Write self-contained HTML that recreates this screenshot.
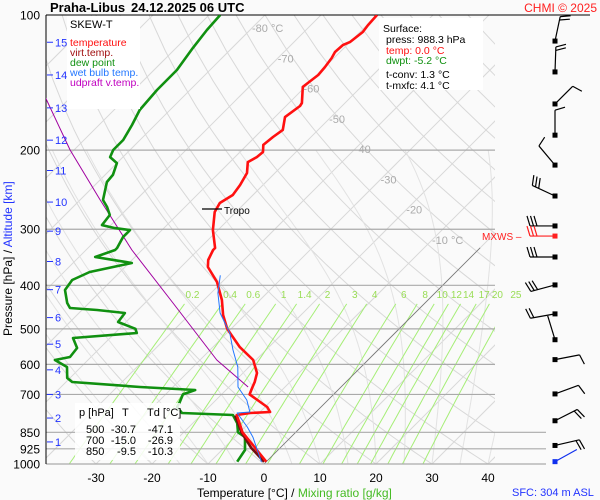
<!DOCTYPE html>
<html><head><meta charset="utf-8">
<style>
html,body{margin:0;padding:0;background:#fafafa;width:600px;height:500px;overflow:hidden;position:relative;}
svg{display:block;font-family:"Liberation Sans",sans-serif;}
</style></head>
<body>
<svg id="chart" width="600" height="500" viewBox="0 0 600 500" xmlns="http://www.w3.org/2000/svg">
<rect x="0" y="0" width="600" height="500" fill="#fafafa"/>
<defs><clipPath id="pc"><rect x="46" y="15" width="449" height="449"/></clipPath></defs>
<g id="grid" clip-path="url(#pc)"></g>
<g id="plines"></g>
<g id="series" clip-path="url(#pc)"></g>
<g id="winds"></g>
<g id="labels"></g>
</svg>
<script>
// ---- data ----
const pressureTicks=[100,200,300,400,500,600,700,850,925,1000];
const tempTicks=[-30,-20,-10,0,10,20,30,40];
const isoLabelT=[-80,-70,-60,-50,-40,-30,-20,-10];
const mixRatios=[0.2,0.4,0.6,1,1.4,2,3,4,6,8,10,12,14,17,20,25];
const altKm=[1,2,3,4,5,6,7,8,9,10,11,12,13,14,15];
const altP=[893,790,700,617,541,472,409,354,303,261,222,190,161,136,115];
const tP=[100,105.3,109.1,114.9,116.6,120.9,124.7,130.6,136,144.6,157,159.5,168.8,180.3,186.9,194.7,201.9,207.2,212.6,224.9,239.1,251.7,262.3,274.6,301.3,330.3,333.7,351.3,364.1,393.2,431.2,465.8,500,549,586.7,627,656.7,677.1,700,746.5,766,770,778,850,988.3];
const tT=[-60,-59.8,-59.5,-60,-60.7,-60.9,-60.4,-60,-59.8,-60.4,-57.7,-57.5,-58.2,-56.3,-56.8,-57.1,-55.9,-56.1,-56.8,-55,-54.1,-53.6,-54.5,-53.8,-50.9,-47.3,-47.3,-46.4,-45.2,-40.9,-36.8,-33.9,-30.7,-25.2,-20.5,-17.5,-16.3,-15.7,-15,-9.6,-8.2,-11.6,-13.6,-9.5,0.0];
const dP=[100,108,118.4,132.6,146.9,162.8,175.8,189.8,199.8,207.2,213.7,227.1,235.5,258.2,267.7,278.9,293.7,298.2,301.3,312.3,330.3,333.7,346,356.8,373.6,389.3,409.8,437.9,449.3,454,461,482.8,500,510.8,524.1,551.6,577.7,586.7,608.2,643.5,656.7,673.7,684.2,700,727.7,746.5,770,778,810.6,850,871,930.7,988.3];
const dT=[-88,-87.7,-87,-85.9,-85.9,-85.4,-84.1,-83,-83,-82.3,-80,-78.6,-78.4,-75.9,-73.9,-72,-71.6,-68.75,-65.7,-65.7,-64.8,-64.8,-67.1,-59.5,-65.4,-67.1,-66.6,-63.9,-62.5,-57.3,-51.8,-51.4,-47.1,-46.1,-56.6,-54.1,-53.75,-55.9,-52.5,-50.5,-48.9,-35.9,-25.5,-26.9,-26.1,-25.7,-23.75,-14.3,-12.1,-10.3,-8.2,-5.9,-5.2];
const wP=[380,416.2,461,510.8,557.2,608.2,673.7,720.2,766,770,827,871,990];
const wT=[-41.5,-38.75,-34.8,-29.5,-25.9,-22,-18.4,-14.5,-11.8,-13.9,-9.6,-6.8,-0.8];
const vP=[780,850,920,988.3];
const vT=[-13.8,-9.7,-5.2,-0.4];
const uP=[152.3,199.8,258.2,333.7,437.9,586.7,673.7];
const uT=[-104.6,-90.7,-76.4,-61.8,-45,-27,-16.6];
const windP=[114.3,133.9,157.8,185.2,215.9,253,295,345.9,399.2,463.1,528.7,585.5,698.1,801.1,909.3,988];
const windDir=[12,2,45,0,320,295,270,270,255,260,343,79,70,63,77,61];
const windSpd=[20,20,10,10,10,30,30,30,30,20,3,10,10,20,20,3];
const mxwsP=310.7, mxwsDir=270, mxwsSpd=30;

// ---- axes ----
const X0=264, PX=5.6, YT=15, YB=464;
function yP(p){return YT+(YB-YT)*Math.log10(p/100);}
function pY(y){return 100*Math.pow(10,(y-YT)/(YB-YT));}
function xT(t,p){return X0+PX*t+(YB-yP(p));}
const NS='http://www.w3.org/2000/svg';
function mk(tag,attrs,parent){const e=document.createElementNS(NS,tag);for(const k in attrs)e.setAttribute(k,attrs[k]);parent.appendChild(e);return e;}
function pathFrom(ps,ts){return ps.map((p,i)=>(i?'L':'M')+xT(ts[i],p).toFixed(1)+','+yP(p).toFixed(1)).join('');}
const grid=document.getElementById('grid'),series=document.getElementById('series'),labels=document.getElementById('labels'),plines=document.getElementById('plines'),winds=document.getElementById('winds');

for(let t=-130;t<=50;t+=10){
  const e=mk('line',{x1:xT(t,1000),y1:yP(1000),x2:xT(t,100),y2:yP(100),stroke:'#d8d8d8','stroke-width':1},grid);
  
  
}
const pl=[];for(let p=1000;p>=100;p-=20)pl.push(p);
for(let th=-30;th<=220;th+=10){
  const ts=pl.map(p=>(th+273.15)*Math.pow(p/1000,0.286)-273.15);
  const e=mk('path',{d:pathFrom(pl,ts),fill:'none',stroke:'#d8d8d8','stroke-width':1},grid);
  
  
}
function es(t){return 6.112*Math.exp(17.67*t/(t+243.5));}
for(let t0=-20;t0<=40;t0+=5){
  let T=t0+273.15;const ps=[],ts=[];
  for(let p=1000;p>=200;p-=5){
    ps.push(p);ts.push(T-273.15);
    const e=es(T-273.15),rs=0.622*e/(p-e);
    const dTdp=(287*T+2.5e6*rs)/(p*(1005+2.5e6*2.5e6*rs*0.622/(287*T*T)));
    T-=dTdp*5;
  }
  const e=mk('path',{d:pathFrom(ps,ts),fill:'none',stroke:'#e2e2e2','stroke-width':1},grid);
  
  
}
function tdFromW(w,p){const e=w*p/(622+w);const l=Math.log(e/6.112);return 243.5*l/(17.67-l);}
const mp=[];for(let p=1000;p>=440;p-=20)mp.push(p);mp.push(440);
mixRatios.forEach(w=>{
  const e=mk('path',{d:pathFrom(mp,mp.map(p=>tdFromW(w,p))),fill:'none',stroke:'#a6ee77','stroke-width':1},grid);
  
  
  const t=mk('text',{x:xT(tdFromW(w,440),440)+8,y:298,'font-size':10,fill:'#99dd55','text-anchor':'middle'},labels);
  t.textContent=String(w);
  
  
});
{const e=mk('line',{x1:xT(0,1000),y1:yP(1000),x2:xT(0,330),y2:yP(330),stroke:'#777','stroke-width':0.8},grid);
}

pressureTicks.forEach(p=>{
  const y=yP(p);
  if(p>100){const e=mk('line',{x1:46,y1:y,x2:p>=850?546:495,y2:y,stroke:'#aaa','stroke-width':1.2},plines);
  }
  const t=mk('text',{x:40,y:y+4.5,'font-size':12,'text-anchor':'end',fill:'#000'},labels);
  t.textContent=String(p);
  
  
});
mk('line',{x1:46,y1:15,x2:590,y2:15,stroke:'#000','stroke-width':1},plines);
mk('line',{x1:46,y1:15,x2:46,y2:464,stroke:'#000','stroke-width':1},plines);
tempTicks.forEach(t=>{
  const e=mk('text',{x:xT(t,1000),y:482,'font-size':12,'text-anchor':'middle'},labels);
  e.textContent=String(t);
  
  
});
altKm.forEach((k,i)=>{
  const y=yP(altP[i]);
  mk('line',{x1:47,y1:y,x2:53,y2:y,stroke:'#2233ff','stroke-width':1},labels);
  const e=mk('text',{x:55,y:y+4,'font-size':11,fill:'#2233ff'},labels);
  e.textContent=String(k);
  
  
});
isoLabelT.forEach(t=>{
  const y=28+(t+80)/70*212;
  const x=xT(t,pY(y));
  const e=mk('text',{x:x,y:y+4,'font-size':11,fill:'#aaa'},labels);
  e.textContent=(t===-80||t===-10)?t+' °C':String(t);
  
  
});

function line(ps,ts,col,w,name){const e=mk('path',{d:pathFrom(ps,ts),fill:'none',stroke:col,'stroke-width':w,'stroke-linejoin':'round'},series);}
line(uP,uT,'#a000a0',1,'updraft-line');
line(dP,dT,'#109010',2.6,'dewpoint-line');
line(vP,vT,'#701010',2.6,'virtual-temperature-line');
line(tP,tT,'#ff1010',2.6,'temperature-line');
line(wP,wT,'#2277ff',1,'wet-bulb-line');

function barb(p,dir,spd,col,name){
  const y=yP(p),x=555,L=25,r=dir*Math.PI/180;
  const sx=Math.sin(r),sy=-Math.cos(r),bx=-sy,by=sx;
  const ex=x+sx*L,ey=y+sy*L;
  const g=mk('g',{},winds);
  
  
  mk('line',{x1:x,y1:y,x2:ex,y2:ey,stroke:col,'stroke-width':1.2},g);
  mk('rect',{x:x-2.5,y:y-2.5,width:5,height:5,fill:col},g);
  let n=Math.floor(spd/10),half=(spd%10)>=5;
  for(let i=0;i<n;i++){const ox=ex-sx*i*3.5,oy=ey-sy*i*3.5;mk('line',{x1:ox,y1:oy,x2:ox+bx*10+sx*3,y2:oy+by*10+sy*3,stroke:col,'stroke-width':1.2},g);}
  if(half){const ox=ex-sx*n*3.5,oy=ey-sy*n*3.5;mk('line',{x1:ox,y1:oy,x2:ox+bx*5+sx*1.5,y2:oy+by*5+sy*1.5,stroke:col,'stroke-width':1.2},g);}
}
windP.forEach((p,i)=>barb(p,windDir[i],windSpd[i],i===windP.length-1?'#1030ee':'#000','wind-barb'));
barb(mxwsP,mxwsDir,mxwsSpd,'#ff2020','max-wind-barb');
</script>
<svg style="position:absolute;left:0;top:0" width="600" height="500">
<g font-family="Liberation Sans, sans-serif">
<text x="50" y="12" font-size="13" font-weight="bold">Praha-Libus</text>
<text x="131" y="12" font-size="13" font-weight="bold">24.12.2025 06 UTC</text>
<text x="597" y="12" font-size="12" fill="#ff2020" text-anchor="end">CHMI © 2025</text>
<rect x="67" y="16" width="73" height="93" fill="#fff"/>
<text x="70" y="28" font-size="11">SKEW-T</text>
<text x="70" y="46" font-size="10.5" fill="#ff1010">temperature</text>
<text x="70" y="56" font-size="10.5" fill="#a01010">virt.temp.</text>
<text x="70" y="66" font-size="10.5" fill="#109010">dew point</text>
<text x="70" y="76" font-size="10.5" fill="#2277ff">wet bulb temp.</text>
<text x="70" y="86" font-size="10.5" fill="#c000c0">udpraft v.temp.</text>
<rect x="379" y="18" width="104" height="72" fill="#fff"/>
<g font-size="10.5">
<text x="383" y="32">Surface:</text>
<text x="386" y="43">press: 988.3 hPa</text>
<text x="386" y="54" fill="#ff1010">temp: 0.0 °C</text>
<text x="386" y="64" fill="#109010">dwpt: -5.2 °C</text>
<text x="386" y="78">t-conv: 1.3 °C</text>
<text x="386" y="89">t-mxfc: 4.1 °C</text>
</g>
<rect x="75" y="403" width="105" height="57" fill="#fff" fill-opacity="0.85"/>
<g font-size="11">
<text x="79" y="416">p [hPa]</text><text x="122" y="416">T</text><text x="147" y="416">Td [°C]</text>
<text x="86" y="433">500</text><text x="136" y="433" text-anchor="end">-30.7</text><text x="173" y="433" text-anchor="end">-47.1</text>
<text x="86" y="444">700</text><text x="136" y="444" text-anchor="end">-15.0</text><text x="173" y="444" text-anchor="end">-26.9</text>
<text x="86" y="455">850</text><text x="136" y="455" text-anchor="end">-9.5</text><text x="173" y="455" text-anchor="end">-10.3</text>
</g>
<line x1="202" y1="209" x2="222" y2="209" stroke="#000" stroke-width="1.2"/>
<text x="224" y="214" font-size="10">Tropo</text>
<text x="482" y="240" font-size="10" fill="#ff2020">MXWS –</text>
<text transform="translate(12,336) rotate(-90)" font-size="12">Pressure [hPa] / <tspan fill="#2233ff">Altitude [km]</tspan></text>
<text x="197" y="497" font-size="12">Temperature [°C]  /  <tspan fill="#44bb22">Mixing ratio [g/kg]</tspan></text>
<text x="512" y="496" font-size="11" fill="#2233ff">SFC: 304 m ASL</text>
</g>
</svg>
</body></html>
